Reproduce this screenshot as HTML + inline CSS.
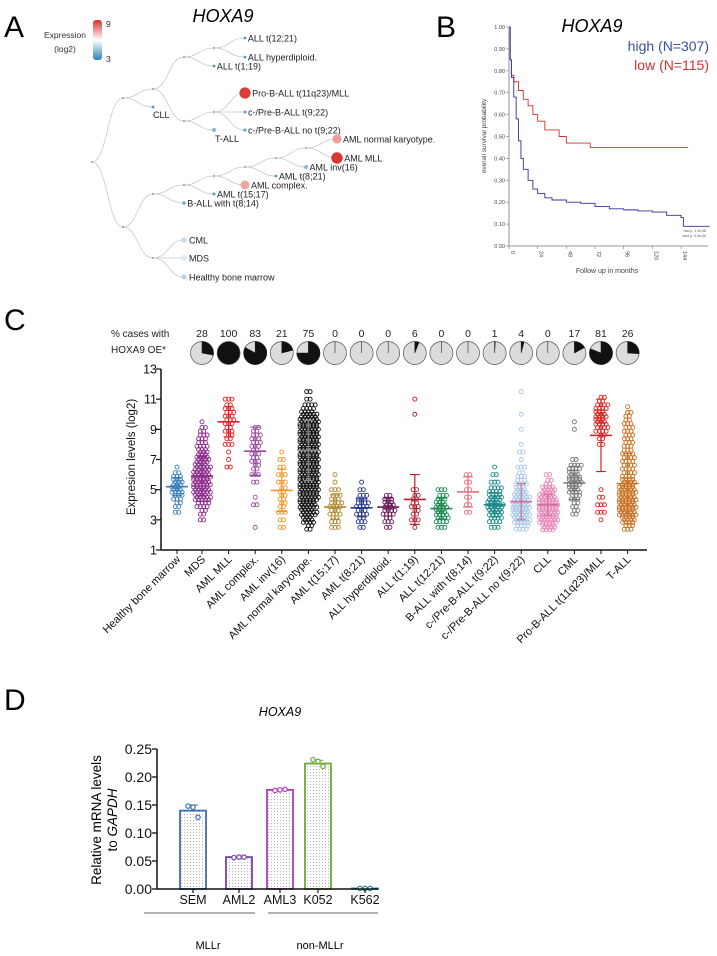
<!DOCTYPE html>
<html><head><meta charset="utf-8"><style>
html,body{margin:0;padding:0;background:#fff}
svg{display:block;font-family:"Liberation Sans",Arial,sans-serif}
</style></head><body>
<svg id="fig" width="717" height="956" viewBox="0 0 717 956">
<defs>
<linearGradient id="lg" x1="0" y1="0" x2="0" y2="1"><stop offset="0" stop-color="#d7302a"/><stop offset="0.5" stop-color="#ffffff"/><stop offset="1" stop-color="#2b83ba"/></linearGradient>
<pattern id="dots" width="3" height="3" patternUnits="userSpaceOnUse"><circle cx="1.5" cy="1.5" r="0.5" fill="#999"/></pattern>
</defs>
<g id="panelA"></g>
<g id="panelB"></g>
<g id="panelC"></g>
<g id="panelD"></g>
</svg>
<script>
const NS="http://www.w3.org/2000/svg";
function mk(parent,tag,attrs,text){const e=document.createElementNS(NS,tag);for(const k in attrs)e.setAttribute(k,attrs[k]);if(text!==undefined)e.textContent=text;parent.appendChild(e);return e;}

/* ---------------- Panel A data ---------------- */
const treeNodes=[["root",92,162,null,0,""],["n1",123,98,"root",0,""],["n2",123,227,"root",0,""],
["a1",153,89,"n1",0,""],["cll",153,107,"n1",3.6,"CLL"],["a2",184,57,"a1",0,""],["a3",184,121,"a1",0,""],
["a4",214,48,"a2",0,""],["t119",214,66,"a2",3.4,"ALL t(1;19)"],["t1221",245,38,"a4",3.4,"ALL t(12;21)"],["hyp",245,57,"a4",3.4,"ALL hyperdiploid."],
["a5",214,112,"a3",0,""],["tall",214,130,"a3",4.2,"T-ALL"],["prob",245,93,"a5",8.8,"Pro-B-ALL t(11q23)/MLL"],["t922",245,112,"a5",3.6,"c-/Pre-B-ALL t(9;22)"],["no922",245,130,"a5",3.7,"c-/Pre-B-ALL no t(9;22)"],
["b1",153,194,"n2",0,""],["b5",153,258,"n2",0,""],["b2",184,185,"b1",0,""],["t814",184,203,"b1",3.9,"B-ALL with t(8;14)"],
["b3",214,176,"b2",0,""],["t1517",214,194,"b2",3.6,"AML t(15;17)"],["b4",245,167,"b3",0,""],["cplx",245,185,"b3",7.3,"AML complex."],
["b6",276,158,"b4",0,""],["t821",276,176,"b4",3.5,"AML t(8;21)"],["b7",306,148,"b6",0,""],["inv16",306,167,"b6",4.3,"AML inv(16)"],
["norm",337,139,"b7",7.4,"AML normal karyotype."],["mll",337,158,"b7",8.9,"AML MLL"],
["cml",184,240,"b5",5.2,"CML"],["mds",184,258,"b5",5.5,"MDS"],["hbm",184,277,"b5",4.9,"Healthy bone marrow"]];
/* ---------------- Panel B data ---------------- */
const highMonths=[0,1,2,4,6,8,10,12,16,20,24,30,36,48,60,72,84,96,108,120,132,144,146,168];
const highSurv=[1.0,0.85,0.77,0.68,0.58,0.48,0.40,0.35,0.30,0.26,0.24,0.22,0.21,0.20,0.195,0.18,0.17,0.165,0.16,0.155,0.14,0.13,0.09,0.09];
const lowMonths=[0,1,2,4,8,12,16,20,24,30,36,42,48,60,68,150];
const lowSurv=[1.0,0.85,0.78,0.75,0.71,0.67,0.64,0.60,0.57,0.53,0.53,0.50,0.47,0.47,0.45,0.45];
const kmXTicks=[0,24,48,72,96,120,144];
const kmYTicks=[0,0.1,0.2,0.3,0.4,0.5,0.6,0.7,0.8,0.9,1.0];
/* ---------------- Panel C data ---------------- */
const groups=["Healthy bone marrow","MDS","AML MLL","AML complex.","AML inv(16)","AML normal karyotype.","AML t(15;17)","AML t(8;21)","ALL hyperdiploid.","ALL t(1;19)","ALL t(12;21)","B-ALL with t(8;14)","c-/Pre-B-ALL t(9;22)","c-/Pre-B-ALL no t(9;22)","CLL","CML","Pro-B-ALL t(11q23)/MLL","T-ALL"];
const groupColors=["#3a7fc0","#8b2a8c","#e02020","#9b4aa0","#f0962a","#111111","#b08a30","#2a3a8a","#6a1a5a","#b02030","#1a8a50","#e87080","#1a8a8a","#a8c8e8","#e888b8","#777777","#e02020","#c87020"];
const binStarts=[2.5,3,3.5,4,4.5,5,5.5,6,6.5,7,7.5,8,8.5,9,9.5,10,10.5,11,11.5];
const binCounts=[
[0,0,2,4,6,10,9,5,1,0,0,0,0,0,0,0,0,0,0],
[0,2,4,8,14,16,16,16,14,12,9,7,6,4,1,0,0,0,0],
[0,0,0,0,0,0,0,0,2,1,1,3,4,5,6,6,5,3,0],
[1,0,0,2,1,0,2,3,4,5,5,6,6,4,0,0,0,0,0],
[2,2,3,4,4,4,3,3,2,2,1,0,0,0,0,0,0,0,0],
[4,10,14,16,18,18,18,18,18,18,18,18,18,18,18,14,8,2,2],
[3,5,7,8,6,3,1,1,0,0,0,0,0,0,0,0,0,0,0],
[2,5,7,8,6,2,1,0,0,0,0,0,0,0,0,0,0,0,0],
[2,5,8,9,5,0,0,0,0,0,0,0,0,0,0,0,0,0,0],
[1,3,4,5,4,2,0,0,0,0,0,0,0,0,0,1,0,1,0],
[3,8,10,10,6,3,0,0,0,0,0,0,0,0,0,0,0,0,0],
[0,0,2,2,2,2,2,2,0,0,0,0,0,0,0,0,0,0,0],
[3,8,12,14,12,8,3,2,1,0,0,0,0,0,0,0,0,0,0],
[8,14,16,16,14,10,7,5,3,1,2,1,0,1,0,1,0,0,1],
[12,18,18,18,16,12,4,2,0,0,0,0,0,0,0,0,0,0,0],
[0,0,4,4,6,10,12,10,8,2,0,0,0,1,1,0,0,0,0],
[0,1,3,3,2,1,0,0,0,0,0,2,4,8,10,10,8,4,0],
[6,12,16,16,16,16,12,8,8,8,7,6,6,6,5,4,1,0,0]];
const groupMeans=[5.2,5.9,9.5,7.55,4.95,7.6,3.85,3.8,3.85,4.35,3.75,4.85,4.0,4.2,4.0,5.45,8.6,5.4];
const groupSD=[0.6,1.3,1.0,1.6,1.4,2.0,0.8,0.6,0.6,1.65,0.7,1.0,0.8,1.2,0.7,1.1,2.4,2.0];
const oePercent=[28,100,83,21,75,0,0,0,6,0,0,1,4,0,17,81,26];
const cYTicks=[1,3,5,7,9,11,13];
/* ---------------- Panel D data ---------------- */
const cellLines=["SEM","AML2","AML3","K052","K562"];
const barMeans=[0.140,0.057,0.177,0.224,0.001];
const barErr=[0.010,0.001,0.001,0.006,0.001];
const reps=[[0.148,0.146,0.128],[0.056,0.057,0.057],[0.176,0.177,0.178],[0.231,0.228,0.219],[0.001,0.001,0.001]];
const barColors=["#3a6fb5","#7b3fb0","#b03cc0","#6aaa3a","#1f8a9a"];
const dYTicks=[0,0.05,0.10,0.15,0.20,0.25];

/* ================= Panel A ================= */
(function(){
const g=document.getElementById('panelA');
let t=mk(g,'text',{x:4,y:37,'font-size':30});t.textContent='A';


t=mk(g,'text',{x:223,y:22,'font-size':18,'font-style':'italic','text-anchor':'middle'},'HOXA9');


mk(g,'text',{x:65,y:38,'font-size':8.5,'text-anchor':'middle',fill:'#333'},'Expression');
mk(g,'text',{x:65,y:52,'font-size':8.5,'text-anchor':'middle',fill:'#333'},'(log2)');
let r=mk(g,'rect',{x:93,y:20,width:9,height:40,rx:3,fill:'url(#lg)'});


mk(g,'text',{x:106,y:27,'font-size':8.5,fill:'#333'},'9');
mk(g,'text',{x:106,y:62,'font-size':8.5,fill:'#333'},'3');
const byId={};treeNodes.forEach(n=>byId[n[0]]=n);
function col(v){const f=Math.max(0,Math.min(1,(v-3)/6));
 const c1=[43,131,186],c2=[255,255,255],c3=[215,48,42];let a,b,u;
 if(f<0.5){a=c1;b=c2;u=f/0.5;}else{a=c2;b=c3;u=(f-0.5)/0.5;}
 return 'rgb('+a.map((x,i)=>Math.round(x+(b[i]-x)*u)).join(',')+')';}
treeNodes.forEach(n=>{if(!n[3])return;const p=byId[n[3]];const mx=(p[1]+n[1])/2;
 const e=mk(g,'path',{d:`M${p[1]},${p[2]} C${mx},${p[2]} ${mx},${n[2]} ${n[1]},${n[2]}`,fill:'none',stroke:'#c8c8c8','stroke-width':0.8});
 
 });
treeNodes.forEach(n=>{const v=n[4];let rad=v?1+(v-3)*0.8:0.9;if(rad<1.3&&v)rad=1.5;
 const c=mk(g,'circle',{cx:n[1],cy:n[2],r:v?rad:0.9,fill:v?col(v):'#4a8ac0'});
 
 
 if(n[5]){let lx=n[1]+rad+1.5,ly=n[2]+3.5;
  if(n[0]==='cll'){lx=n[1];ly=n[2]+11;}
  if(n[0]==='tall'){lx=n[1]+1;ly=n[2]+12;}
  if(n[0]==='hbm'||n[0]==='mds'||n[0]==='cml'){lx=n[1]+5;}
  const tt=mk(g,'text',{x:lx,y:ly,'font-size':9,fill:'#222'},n[5]);
  
  }});
})();

/* ================= Panel B ================= */
(function(){
const g=document.getElementById('panelB');
const X0=509,X1=708,Y0=246,Y1=27;
const xs=m=>X0+m*(681-509)/144, ys=s=>Y0-s*(Y0-Y1);
let t=mk(g,'text',{x:436,y:37,'font-size':30},'B');


t=mk(g,'text',{x:592,y:32,'font-size':18,'font-style':'italic','text-anchor':'middle'},'HOXA9');


mk(g,'line',{x1:X0,y1:Y1,x2:X0,y2:Y0,stroke:'#777','stroke-width':0.8});
mk(g,'line',{x1:X0,y1:Y0,x2:X1,y2:Y0,stroke:'#777','stroke-width':0.8});
kmYTicks.forEach(v=>{mk(g,'line',{x1:X0-3,y1:ys(v),x2:X0,y2:ys(v),stroke:'#777','stroke-width':0.6});
 const l=mk(g,'text',{x:X0-4,y:ys(v)+2,'font-size':5.5,'text-anchor':'end',fill:'#444'},v.toFixed(2));
 
 });
kmXTicks.forEach(v=>{mk(g,'line',{x1:xs(v),y1:Y0,x2:xs(v),y2:Y0+3,stroke:'#777','stroke-width':0.6});
 const l=mk(g,'text',{x:xs(v)+2,y:Y0+5,'font-size':5.5,fill:'#444',transform:`rotate(90 ${xs(v)+2} ${Y0+5})`},String(v));
 
 });
mk(g,'text',{x:486,y:136,'font-size':6.5,fill:'#444','text-anchor':'middle',transform:'rotate(-90 486 136)'},'overall survival probability');
mk(g,'text',{x:607,y:273,'font-size':7,fill:'#444','text-anchor':'middle'},'Follow up in months');
mk(g,'text',{x:706,y:232,'font-size':3.5,fill:'#555','text-anchor':'end'},'raw p: 1.1e-08');
mk(g,'text',{x:706,y:237,'font-size':3.5,fill:'#555','text-anchor':'end'},'bonf p: 4.4e-06');
function step(ms,ss){let d=`M${xs(ms[0])},${ys(ss[0])}`;for(let i=1;i<ms.length;i++){d+=` H${xs(ms[i])} V${ys(ss[i])}`;}return d;}
let p=mk(g,'path',{d:step(lowMonths,lowSurv),fill:'none',stroke:'#d03030','stroke-width':0.9});


p=mk(g,'path',{d:step(highMonths,highSurv),fill:'none',stroke:'#3030a0','stroke-width':0.9});


t=mk(g,'text',{x:709,y:51,'font-size':14,fill:'#3b4fa0','text-anchor':'end'},'high (N=307)');


t=mk(g,'text',{x:709,y:70,'font-size':14,fill:'#d03030','text-anchor':'end'},'low   (N=115)');


})();

/* ================= Panel C ================= */
(function(){
const g=document.getElementById('panelC');
const AX=161,YT=369,YB=550,XE=647;
const ys=v=>YB-(v-1)*(YB-YT)/12;
const cx=i=>i===0?177:202+(i-1)*26.6;
let t=mk(g,'text',{x:4,y:330,'font-size':30},'C');


mk(g,'text',{x:111,y:337,'font-size':10,fill:'#222'},'% cases with');
mk(g,'text',{x:111,y:353,'font-size':10,fill:'#222'},'HOXA9 OE*');
oePercent.forEach((p,i)=>{const x=cx(i+1),y=353,r=11.5;
 const lab=mk(g,'text',{x:x,y:337,'font-size':10.5,'text-anchor':'middle',fill:'#222'},String(p));
 
 
 const c=mk(g,'circle',{cx:x,cy:y,r:r,fill:'#dcdcdc',stroke:'#555','stroke-width':0.7});
 
 
 if(p>=100){c.setAttribute('fill','#111');}
 else{const a=p/100*2*Math.PI;const ex=x+r*Math.sin(a),ey=y-r*Math.cos(a);
  const w=mk(g,'path',{d:p>0?`M${x},${y} L${x},${y-r} A${r},${r} 0 ${p>50?1:0} 1 ${ex},${ey} Z`:`M${x},${y} L${x},${y-r}`,fill:'#111',stroke:'#222','stroke-width':0.6});
  
  }});
mk(g,'line',{x1:AX,y1:YT,x2:AX,y2:YB,stroke:'#111','stroke-width':1.5});
mk(g,'line',{x1:AX,y1:YB,x2:XE,y2:YB,stroke:'#111','stroke-width':1.5});
cYTicks.forEach(v=>{mk(g,'line',{x1:AX-5,y1:ys(v),x2:AX,y2:ys(v),stroke:'#111','stroke-width':1.2});
 const l=mk(g,'text',{x:AX-4,y:ys(v)+4.5,'font-size':12.5,'text-anchor':'end',fill:'#111'},String(v));
 
 });
t=mk(g,'text',{x:135,y:457,'font-size':11.5,'text-anchor':'middle',transform:'rotate(-90 135 457)',fill:'#111'},'Expresion levels (log2)');


groups.forEach((name,i)=>{const x=cx(i);const gg=mk(g,'g',{});
 
 
 binCounts[i].forEach((k,b)=>{if(!k)return;const base=binStarts[b];
  const rows=k>8?3:(k>3?2:1);const perRow=Math.ceil(k/rows);
  for(let j=0;j<k;j++){const row=j%rows,pos=Math.floor(j/rows);
   const sp=Math.min(3.4,20/perRow);const off=(pos-(perRow-1)/2)*sp+(row%2?sp/2:0);
   const v=base+(row-(rows-1)/2)*0.5/rows;
   const c=mk(gg,'circle',{cx:x+off,cy:ys(v),r:2,fill:'none',stroke:groupColors[i],'stroke-width':0.9});
   
   }});
 const m=groupMeans[i],s=groupSD[i],ec=i===5?'#888':(i===14||i===13?'#d070a0':groupColors[i]);
 let l=mk(g,'line',{x1:x-11,y1:ys(m),x2:x+11,y2:ys(m),stroke:ec,'stroke-width':1.6});
 
 
 l=mk(g,'path',{d:`M${x},${ys(m+s)}V${ys(m-s)}M${x-5},${ys(m+s)}h10M${x-5},${ys(m-s)}h10`,stroke:ec,'stroke-width':1.2,fill:'none'});
 
 
 mk(g,'line',{x1:x,y1:YB,x2:x,y2:YB+4,stroke:'#111','stroke-width':1});
 const lab=mk(g,'text',{x:x+4,y:YB+10,'font-size':11,'text-anchor':'end',fill:'#111',transform:`rotate(-45 ${x+4} ${YB+10})`},name);
 
 });
})();

/* ================= Panel D ================= */
(function(){
const g=document.getElementById('panelD');
const AX=157,Y0=889,Y1=749;
const ys=v=>Y0-v*(Y0-Y1)/0.25;
const bx=[193,239,280,318,365];
let t=mk(g,'text',{x:4,y:710,'font-size':30},'D');


t=mk(g,'text',{x:280,y:716,'font-size':12.5,'font-style':'italic','text-anchor':'middle'},'HOXA9');


t=mk(g,'text',{x:101,y:820,'font-size':13.5,'text-anchor':'middle',transform:'rotate(-90 101 820)'},'Relative mRNA levels');


const t2=mk(g,'text',{x:117,y:820,'font-size':13.5,'text-anchor':'middle',transform:'rotate(-90 117 820)'});
mk(t2,'tspan',{},'to ');mk(t2,'tspan',{'font-style':'italic'},'GAPDH');
cellLines.forEach((n,i)=>{const x=bx[i],w=26,v=barMeans[i];
 const r=mk(g,'rect',{x:x-w/2,y:ys(v),width:w,height:Math.max(0,ys(0)-ys(v)),fill:'url(#dots)',stroke:barColors[i],'stroke-width':1.8});
 
 
 const e=mk(g,'path',{d:`M${x},${ys(v+barErr[i])}V${ys(v)}M${x-5},${ys(v+barErr[i])}h10`,stroke:barColors[i],'stroke-width':1,fill:'none'});
 
 
 reps[i].forEach((rv,j)=>{const c=mk(g,'circle',{cx:x+(j-1)*5,cy:ys(rv),r:2.2,fill:'#fff',stroke:barColors[i],'stroke-width':1.2});
  
  });
 mk(g,'line',{x1:x,y1:Y0,x2:x,y2:Y0+4,stroke:'#111','stroke-width':1.2});
 const l=mk(g,'text',{x:x,y:904,'font-size':12.5,'text-anchor':'middle',fill:'#111'},n);
 
 });
mk(g,'line',{x1:AX,y1:Y1,x2:AX,y2:Y0,stroke:'#111','stroke-width':1.5});
mk(g,'line',{x1:AX,y1:Y0,x2:378,y2:Y0,stroke:'#111','stroke-width':1.5});
dYTicks.forEach(v=>{mk(g,'line',{x1:AX-5,y1:ys(v),x2:AX,y2:ys(v),stroke:'#111','stroke-width':1.3});
 const l=mk(g,'text',{x:AX-5,y:ys(v)+5,'font-size':14,'text-anchor':'end',fill:'#111'},v.toFixed(2));
 
 });
mk(g,'line',{x1:144,y1:913,x2:255,y2:913,stroke:'#333','stroke-width':0.8});
mk(g,'line',{x1:268,y1:913,x2:378,y2:913,stroke:'#333','stroke-width':0.8});
t=mk(g,'text',{x:208,y:949,'font-size':11,'text-anchor':'middle'},'MLLr');


t=mk(g,'text',{x:320,y:949,'font-size':11,'text-anchor':'middle'},'non-MLLr');


})();
</script>
</body></html>
